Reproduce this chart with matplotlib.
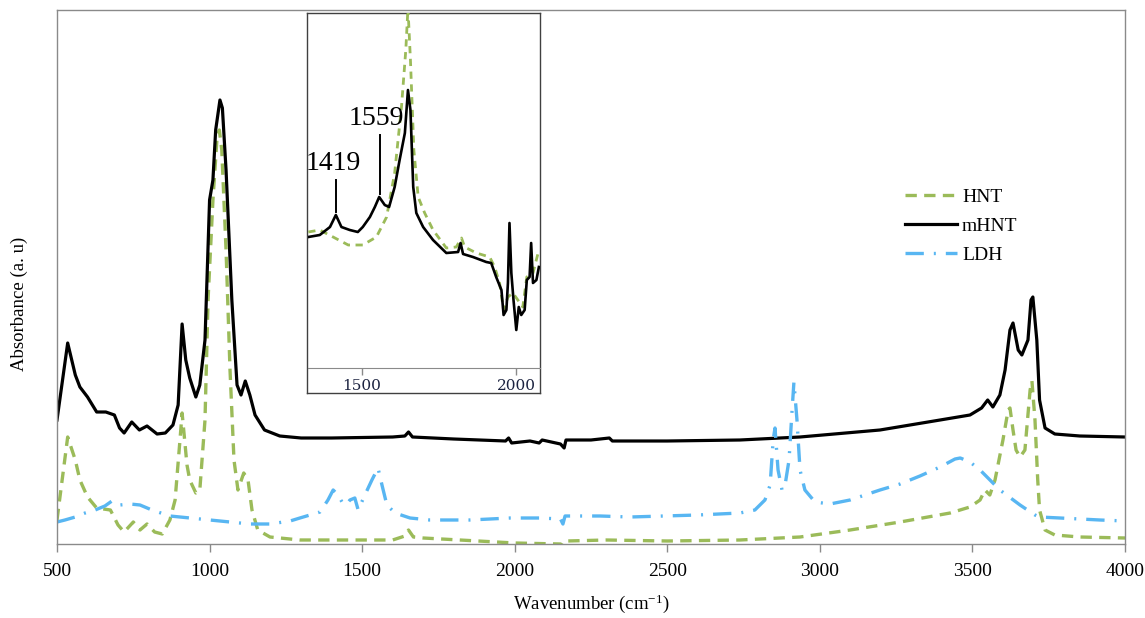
import numpy as np
import matplotlib
matplotlib.use("Agg")
import matplotlib.pyplot as plt

plt.rcParams['mathtext.fontset'] = 'custom'
plt.rcParams['mathtext.rm'] = 'Liberation Serif'

# ---- main spectra (wavenumber, absorbance in a.u.) ----
mhnt_wn = [500, 535, 560, 575, 600, 630, 660, 688, 705, 720, 745, 770, 795, 828, 855, 880,
           897, 910, 922, 935, 955, 968, 985, 1000, 1011, 1020, 1034, 1042, 1054, 1073, 1090,
           1103, 1117, 1132, 1149, 1180, 1230, 1300, 1400, 1600, 1640, 1652, 1665, 1800, 1970,
           1980, 1990, 2050, 2080, 2090, 2150, 2162, 2168, 2250, 2310, 2320, 2500, 2738, 2935,
           3197, 3394, 3492, 3530, 3550, 3567, 3590, 3607, 3623, 3633, 3650, 3662, 3682, 3692,
           3698, 3711, 3720, 3738, 3770, 3852, 4000]
mhnt_ab = [1.24, 2.01, 1.69, 1.57, 1.47, 1.32, 1.32, 1.29, 1.16, 1.11, 1.22, 1.14, 1.18, 1.10, 1.11, 1.19,
           1.39, 2.20, 1.84, 1.66, 1.47, 1.59, 2.04, 3.44, 3.64, 4.14, 4.44, 4.36, 3.74, 2.44, 1.59,
           1.49, 1.63, 1.49, 1.29, 1.14, 1.08, 1.06, 1.06, 1.07, 1.08, 1.12, 1.07, 1.05, 1.03,
           1.06, 1.01, 1.03, 1.01, 1.04, 1.00, 0.96, 1.04, 1.04, 1.06, 1.03, 1.03, 1.04, 1.07,
           1.14, 1.24, 1.29, 1.36, 1.44, 1.37, 1.49, 1.74, 2.14, 2.21, 1.94, 1.89, 2.04, 2.44,
           2.47, 2.04, 1.44, 1.16, 1.10, 1.08, 1.07]

hnt_wn = [500, 535, 560, 575, 600, 630, 675, 700, 720, 750, 772, 795, 820, 845, 870, 887,
          903, 910, 926, 935, 955, 968, 985, 995, 1011, 1024, 1032, 1040, 1054, 1067, 1080,
          1093, 1112, 1126, 1139, 1158, 1198, 1296, 1600, 1640, 1652, 1668, 1700, 2000, 2150,
          2160, 2170, 2300, 2500, 2738, 2935, 3099, 3263, 3427, 3492, 3525, 3541, 3557, 3574,
          3600, 3617, 3623, 3633, 3643, 3656, 3672, 3689, 3695, 3705, 3714, 3720, 3738, 3770,
          3852, 4000]
hnt_ab = [0.24, 1.07, 0.84, 0.64, 0.47, 0.36, 0.34, 0.19, 0.12, 0.22, 0.14, 0.20, 0.12, 0.10, 0.24, 0.44,
          1.04, 1.31, 0.79, 0.64, 0.51, 0.54, 1.24, 2.44, 3.44, 4.04, 4.14, 3.94, 2.94, 1.74, 0.84,
          0.54, 0.71, 0.64, 0.34, 0.14, 0.07, 0.04, 0.04, 0.08, 0.14, 0.07, 0.06, 0.01, 0.00,
          -0.02, 0.03, 0.04, 0.03, 0.04, 0.07, 0.14, 0.22, 0.31, 0.37, 0.44, 0.54, 0.49, 0.64,
          1.04, 1.34, 1.36, 1.14, 0.94, 0.87, 0.94, 1.54, 1.63, 1.24, 0.64, 0.34, 0.14, 0.09,
          0.07, 0.06]

ldh_wn = [500, 526, 560, 592, 625, 657, 680, 706, 740, 772, 811, 870, 936, 1001, 1067, 1132,
          1198, 1264, 1296, 1362, 1388, 1405, 1421, 1434, 1447, 1460, 1476, 1487, 1509, 1532,
          1552, 1565, 1581, 1608, 1657, 1722, 1853, 1985, 2083, 2150, 2158, 2165, 2280, 2378,
          2600, 2738, 2787, 2820, 2837, 2847, 2853, 2863, 2876, 2886, 2899, 2909, 2915, 2925,
          2935, 2951, 2984, 3033, 3099, 3197, 3263, 3328, 3394, 3443, 3460, 3492, 3525, 3590,
          3656, 3705, 3720, 3787, 3918, 4000]
ldh_ab = [0.22, 0.24, 0.27, 0.31, 0.34, 0.38, 0.43, 0.39, 0.40, 0.39, 0.34, 0.28, 0.26, 0.24, 0.22, 0.20,
          0.20, 0.23, 0.26, 0.32, 0.44, 0.54, 0.49, 0.42, 0.39, 0.44, 0.46, 0.34, 0.49, 0.64,
          0.76, 0.59, 0.39, 0.31, 0.26, 0.24, 0.24, 0.26, 0.26, 0.25, 0.20, 0.28, 0.28, 0.27,
          0.29, 0.31, 0.34, 0.44, 0.59, 1.04, 1.16, 0.74, 0.54, 0.59, 0.84, 1.34, 1.62, 1.24,
          0.74, 0.54, 0.42, 0.40, 0.44, 0.54, 0.60, 0.68, 0.77, 0.85, 0.86, 0.82, 0.74, 0.54,
          0.39, 0.29, 0.27, 0.26, 0.24, 0.23]

# ---- inset (1330-2075 cm-1, magnified) ----
in_mhnt_wn = [1328, 1365, 1398, 1417, 1435, 1462, 1488, 1504, 1527, 1543, 1557, 1575, 1589, 1607,
              1623, 1640, 1650, 1658, 1667, 1677, 1699, 1731, 1774, 1812, 1820, 1828, 1860, 1903,
              1919, 1935, 1952, 1959, 1968, 1973, 1978, 1984, 1991, 2000, 2008, 2016, 2027, 2034,
              2043, 2048, 2054, 2065, 2073]
in_mhnt_ab = [1.31, 1.33, 1.41, 1.53, 1.41, 1.38, 1.36, 1.41, 1.51, 1.61, 1.71, 1.63, 1.61, 1.81,
              2.08, 2.35, 2.78, 2.58, 1.81, 1.55, 1.41, 1.28, 1.15, 1.16, 1.25, 1.14, 1.11, 1.06,
              1.05, 0.91, 0.78, 0.53, 0.58, 0.85, 1.45, 0.95, 0.68, 0.38, 0.61, 0.53, 0.58, 0.88,
              0.91, 1.25, 0.85, 0.88, 1.01]
in_hnt_wn = [1328, 1365, 1408, 1457, 1504, 1548, 1581, 1607, 1629, 1643, 1650, 1658, 1669, 1683,
             1704, 1731, 1774, 1806, 1823, 1833, 1871, 1914, 1930, 1946, 1959, 1973, 1989, 2005,
             2021, 2034, 2054, 2073]
in_hnt_ab = [1.36, 1.38, 1.31, 1.23, 1.23, 1.31, 1.51, 1.95, 2.61, 3.18, 3.60, 3.08, 2.18, 1.71,
             1.55, 1.38, 1.20, 1.21, 1.30, 1.21, 1.15, 1.11, 1.01, 0.85, 0.58, 0.71, 0.75, 0.68,
             0.61, 0.91, 0.95, 1.18]
peak_labels = ['1419', '1559']
peak_wn = [1419, 1559]
peak_ab = [1.53, 1.71]
label_ab = [1.88, 2.33]   # top of the marker lines

green = '#9BBB59'
blue = '#58B6F2'
gray = '#8a8a8a'
serif = 'Liberation Serif'

W, H = 1145, 618
fig = plt.figure(figsize=(W / 100, H / 100), dpi=100)

def box(x0, y0, x1, y1):
    # pixel box (top-left origin) -> figure fraction rect
    return [x0 / W, 1 - y1 / H, (x1 - x0) / W, (y1 - y0) / H]

ax = fig.add_axes(box(57, 10, 1125, 544))
ax.plot(hnt_wn, hnt_ab, color=green, lw=2.4, ls=(0, (3.4, 2.2)), label='HNT')
ax.plot(mhnt_wn, mhnt_ab, color='black', lw=2.3, label='mHNT')
ax.plot(ldh_wn, ldh_ab, color=blue, lw=2.4, ls=(0, (5.5, 3.0, 0.6, 3.0)), label='LDH')
ax.set_xlim(500, 4000)
ax.set_ylim(0, 5.34)
ax.set_xticks(np.arange(500, 4001, 500))
ax.set_yticks([])
for s in ax.spines.values():
    s.set_color(gray)
    s.set_linewidth(1.0)
ax.tick_params(axis='x', direction='out', length=6, width=1, color=gray,
               labelsize=14, pad=8)
for t in ax.get_xticklabels():
    t.set_fontfamily(serif)
ax.set_xlabel(r'Wavenumber (cm$\mathregular{^{-1}}$)', fontsize=13.5, family=serif, labelpad=9)
ax.set_ylabel('Absorbance (a. u)', fontsize=13.5, family=serif)
ax.yaxis.set_label_coords(-0.027, 0.45)

leg = ax.legend(loc='upper left', bbox_to_anchor=(0.7845, 0.685), frameon=False,
                prop={'family': serif, 'size': 14}, handlelength=2.7,
                handletextpad=0.25, labelspacing=0.6, borderpad=0)

# inset frame and axes
frame = fig.add_axes(box(307, 12.7, 539.5, 393))
frame.set_xticks([])
frame.set_yticks([])
for s in frame.spines.values():
    s.set_color('#404040')
    s.set_linewidth(1.0)

ins = fig.add_axes(box(308, 12.7, 539.5, 368))
ins.patch.set_alpha(0)
ins.plot(in_hnt_wn, in_hnt_ab, color=green, lw=2.0, ls=(0, (2.6, 2.0)))
ins.plot(in_mhnt_wn, in_mhnt_ab, color='black', lw=1.9)
ins.set_xlim(1327, 2075)
ins.set_ylim(0, 3.553)
ins.set_xticks([1500, 2000])
ins.set_yticks([])
for k in ['left', 'right', 'top']:
    ins.spines[k].set_visible(False)
ins.spines['bottom'].set_color(gray)
ins.tick_params(axis='x', direction='out', length=5, width=1, color=gray,
                labelsize=11, labelcolor='#1c2340', pad=3)
for t in ins.get_xticklabels():
    t.set_fontfamily('DejaVu Serif')

for lab, wn, ab, top in zip(peak_labels, peak_wn, peak_ab, label_ab):
    ins.plot([wn, wn], [ab + 0.03, top], color='black', lw=1.4)
    ins.text(wn - 10, top + 0.04, lab, ha='center', va='bottom', fontsize=20, family=serif)

fig.savefig('out.png', dpi=100)
